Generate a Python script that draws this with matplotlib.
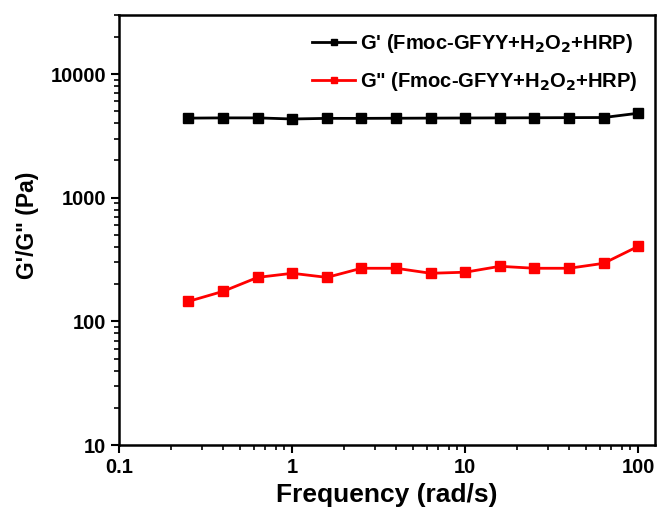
import numpy as np
import matplotlib
matplotlib.use("Agg")
import matplotlib.pyplot as plt
from matplotlib.ticker import LogLocator, NullFormatter, FixedLocator, FixedFormatter

plt.rcParams['font.family'] = ['Liberation Sans', 'DejaVu Sans']
plt.rcParams['font.weight'] = 'bold'
plt.rcParams['mathtext.default'] = 'bf'

# Frequency sweep (rad/s)
freq = [0.25, 0.398, 0.631, 1.0, 1.585, 2.512, 3.981, 6.31, 10.0, 15.85, 25.12, 39.81, 63.1, 100.0]
# Storage modulus G' (Pa)
g_storage = [4400, 4420, 4420, 4330, 4380, 4380, 4390, 4400, 4410, 4420, 4430, 4440, 4450, 4820]
# Loss modulus G'' (Pa)
g_loss = [145, 175, 227, 245, 227, 269, 269, 245, 250, 279, 269, 269, 295, 405]

label_storage = "G' (Fmoc-GFYY+H$_2$O$_2$+HRP)"
label_loss = 'G" (Fmoc-GFYY+H$_2$O$_2$+HRP)'

fig = plt.figure(figsize=(6.59, 5.17), dpi=100)
ax = fig.add_axes([0.181, 0.139, 0.813, 0.832])

ax.plot(freq, g_storage, '-s', color='black', linewidth=2, markersize=6.5, label=label_storage)
ax.plot(freq, g_loss, '-s', color='red', linewidth=2, markersize=6.5, label=label_loss)

ax.set_xscale('log')
ax.set_yscale('log')
ax.set_xlim(0.1, 125)
ax.set_ylim(10, 30000)

ax.xaxis.set_major_locator(FixedLocator([0.1, 1, 10, 100]))
ax.xaxis.set_major_formatter(FixedFormatter(['0.1', '1', '10', '100']))
ax.xaxis.set_minor_locator(LogLocator(base=10, subs=np.arange(2, 10)))
ax.xaxis.set_minor_formatter(NullFormatter())
ax.yaxis.set_major_locator(FixedLocator([10, 100, 1000, 10000]))
ax.yaxis.set_major_formatter(FixedFormatter(['10', '100', '1000', '10000']))
ax.yaxis.set_minor_locator(LogLocator(base=10, subs=np.arange(2, 10)))
ax.yaxis.set_minor_formatter(NullFormatter())

ax.tick_params(which='major', direction='out', length=6, width=1.5, labelsize=14.5)
ax.tick_params(which='minor', direction='out', length=3.5, width=1.2)
for s in ax.spines.values():
    s.set_linewidth(1.8)

ax.set_xlabel('Frequency (rad/s)', fontsize=19, fontweight='bold', labelpad=4)
ax.set_ylabel('G\'/G" (Pa)', fontsize=16.5, fontweight='bold')
ax.yaxis.set_label_coords(-0.15, 0.51)

ax.legend(loc='upper right', frameon=False, fontsize=14.5, handlelength=2.15,
          handletextpad=0.25, borderaxespad=0.45, labelspacing=0.72, markerscale=0.6)

fig.savefig('out.png', dpi=100)
